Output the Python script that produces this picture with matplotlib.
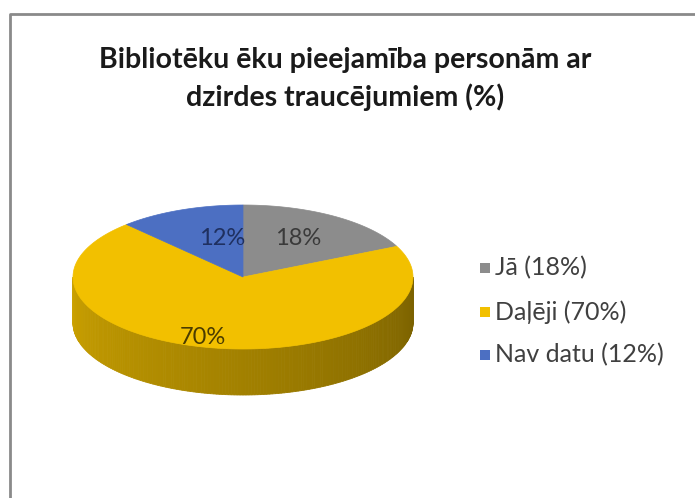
import numpy as np
import matplotlib
matplotlib.use("Agg")
import matplotlib.pyplot as plt
from matplotlib.patches import Polygon, Rectangle

# ---- data ----
title = "Bibliotēku ēku pieejamība personām ar\ndzirdes traucējumiem (%)"
categories = ["Jā (18%)", "Daļēji (70%)", "Nav datu (12%)"]
values = [18, 70, 12]
slice_labels = ["18%", "70%", "12%"]
colors = ["#8c8c8c", "#f2c000", "#4c6fc2"]
label_colors = ["#3a3a3a", "#4a3c00", "#1f3060"]

plt.rcParams['font.family'] = ['Lato', 'DejaVu Sans']

W, H = 695, 498
fig = plt.figure(figsize=(W / 100, H / 100), dpi=100)
ax = fig.add_axes([0, 0, 1, 1])
ax.set_xlim(0, W)
ax.set_ylim(H, 0)
ax.axis('off')

# chart frame
ax.plot([9.5, 9.5, W], [H, 13.5, 13.5], color="#8a8a8a", lw=2, solid_capstyle='butt')

# pie geometry
cx, cy, rx, ry, depth = 243, 277, 170, 72, 46


def pt(phi_deg, dy=0.0):
    p = np.radians(phi_deg)
    return cx + rx * np.sin(p), cy - ry * np.cos(p) + dy


def darken(c, f):
    rgb = np.array(matplotlib.colors.to_rgb(c))
    return tuple(np.clip(rgb * f, 0, 1))


total = float(sum(values))
bounds = np.concatenate([[0], np.cumsum(values) / total * 360.0])

# side walls (front visible half: 90..270 deg clockwise from top)
steps = np.linspace(90, 270, 181)
for a0, a1 in zip(steps[:-1], steps[1:]):
    mid = (a0 + a1) / 2
    idx = np.searchsorted(bounds, mid) - 1
    t = (mid - 90) / 180.0  # 0 at right, 1 at left
    f = 0.50 + 0.34 * t
    x0, y0 = pt(a0)
    x1, y1 = pt(a1)
    poly = Polygon([(x0, y0), (x1, y1), (x1, y1 + depth), (x0, y0 + depth)],
                   closed=True, facecolor=darken(colors[idx], f),
                   edgecolor=darken(colors[idx], f), lw=0.6)
    ax.add_patch(poly)

# top surface
for i, v in enumerate(values):
    a = np.linspace(bounds[i], bounds[i + 1], 200)
    xs, ys = pt(a)
    verts = [(cx, cy)] + list(zip(xs, ys))
    ax.add_patch(Polygon(verts, closed=True, facecolor=colors[i],
                         edgecolor=colors[i], lw=0.5))

# slice labels
label_pos = [(298, 238), (203, 337), (222, 238)]
for (x, y), s, c in zip(label_pos, slice_labels, label_colors):
    ax.text(x, y, s, ha='center', va='center', fontsize=17, color=c)

# title
ax.text(345, 79, title, ha='center', va='center', fontsize=20.5,
        fontweight='bold', color='#1a1a1a', linespacing=1.45)

# legend
leg_y = [268, 312, 355]
for y, lab, c in zip(leg_y, categories, colors):
    ax.add_patch(Rectangle((480, y - 5), 10, 10, facecolor=c, edgecolor='none'))
    ax.text(495, y, lab, ha='left', va='center', fontsize=18, color='#404040')

fig.savefig("out.png", dpi=100)
